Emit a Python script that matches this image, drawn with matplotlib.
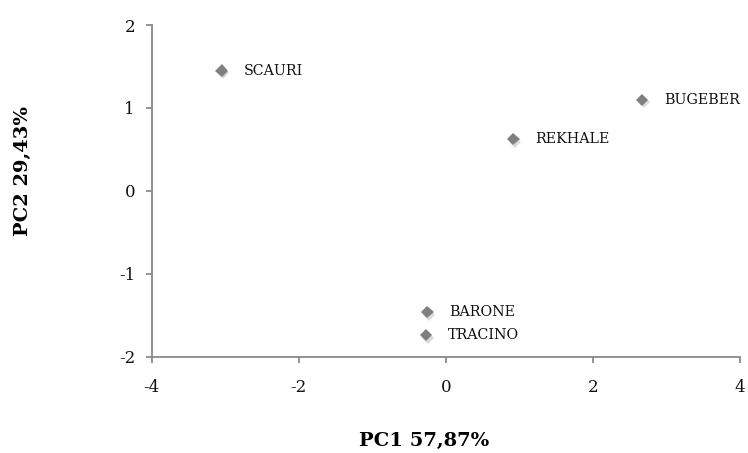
import matplotlib
matplotlib.use("Agg")
import matplotlib.pyplot as plt
import matplotlib.patheffects as pe

# PCA-Scores der Sorten
sorten = ["SCAURI", "BUGEBER", "REKHALE", "BARONE", "TRACINO"]
pc1 = [-3.05, 2.67, 0.92, -0.25, -0.27]
pc2 = [1.45, 1.10, 0.62, -1.46, -1.74]

xticks = [-4, -2, 0, 2, 4]
yticks = [-2, -1, 0, 1, 2]

plt.rcParams['font.family'] = ['DejaVu Serif']

fig = plt.figure(figsize=(7.48, 4.53), dpi=100)
ax = fig.add_axes([0.2028, 0.213, 0.7864, 0.7318])

achse = '#8a8a8a'

# Punkte mit leichtem Schatten
ax.plot(pc1, pc2, linestyle='none', marker='D', markersize=6.2,
        color='#7f7f7f', markeredgewidth=0, clip_on=False,
        path_effects=[pe.SimplePatchShadow(offset=(1.2, -2), shadow_rgbFace='#9a9a9a', alpha=0.35),
                      pe.Normal()])

for name, x, y in zip(sorten, pc1, pc2):
    ax.annotate(name, (x, y), xytext=(16, 0), textcoords='offset points',
                ha='left', va='center', fontsize=10.3, color='#111111')

ax.set_xlim(-4, 4)
ax.set_ylim(-2, 2)
ax.set_xticks(xticks)
ax.set_yticks(yticks)
ax.set_xticklabels([str(t) for t in xticks])
ax.set_yticklabels([str(t) for t in yticks])

for s in ['top', 'right']:
    ax.spines[s].set_visible(False)
for s in ['left', 'bottom']:
    ax.spines[s].set_color(achse)
    ax.spines[s].set_linewidth(1.3)

ax.tick_params(axis='both', direction='out', length=4, width=1.3, color=achse,
               labelsize=12, labelcolor='#111111')
ax.tick_params(axis='x', pad=12)
ax.tick_params(axis='y', pad=8)

# Achsentitel
fig.text(424 / 748, 1 - 441 / 453, 'PC1 57,87%', fontsize=14, fontweight='bold',
         ha='center', va='center')
fig.text(23 / 748, 1 - 171 / 453, 'PC2 29,43%', fontsize=14, fontweight='bold',
         ha='center', va='center', rotation=90)

fig.savefig('out.png', dpi=100)
